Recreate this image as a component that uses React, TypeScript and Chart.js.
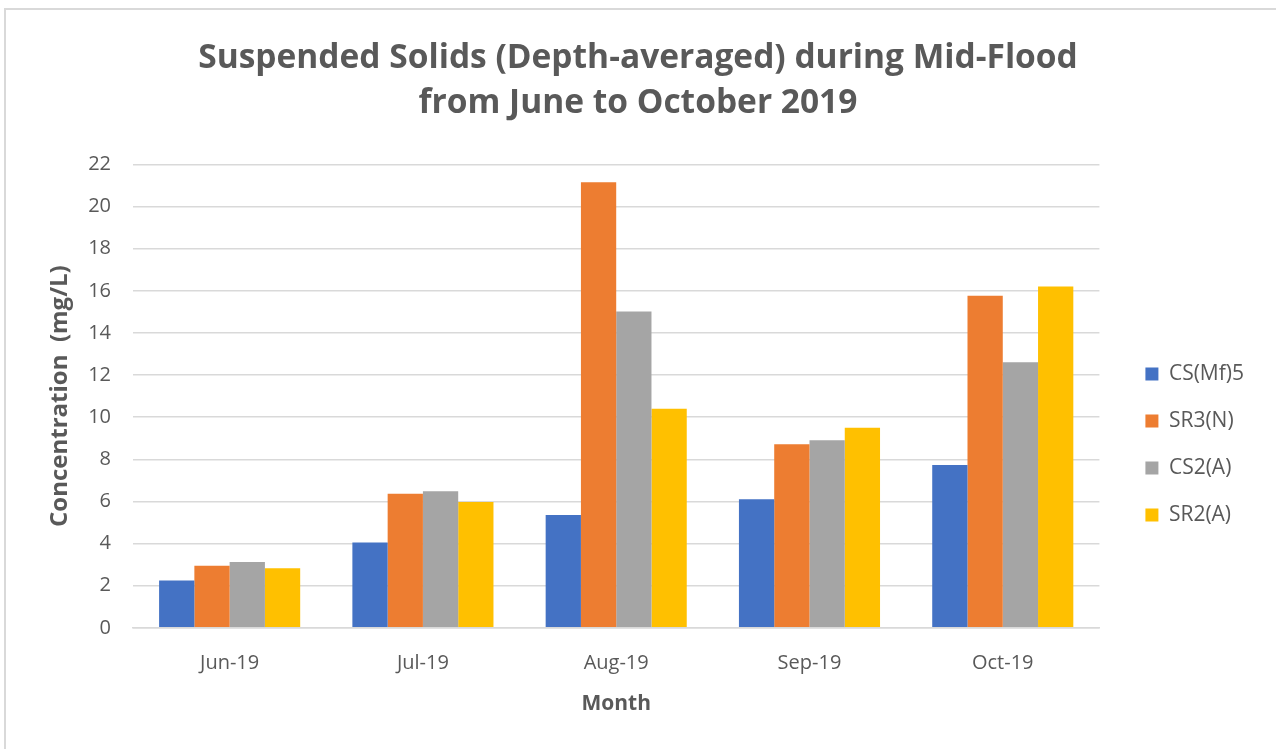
import React, { useEffect, useRef } from "react";
import { Chart, registerables } from "chart.js";

Chart.register(...registerables);

const categories = ["Jun-19", "Jul-19", "Aug-19", "Sep-19", "Oct-19"];
const seriesNames = ["CS(Mf)5", "SR3(N)", "CS2(A)", "SR2(A)"];
const csMf5 = [2.24, 4.05, 5.36, 6.1, 7.73];
const sr3N = [2.95, 6.37, 21.15, 8.71, 15.76];
const cs2A = [3.13, 6.48, 15.02, 8.9, 12.61];
const sr2A = [2.83, 5.97, 10.4, 9.5, 16.2];
const seriesColors = ["#4472C4", "#ED7D31", "#A5A5A5", "#FFC000"];
const yTicks = [0, 2, 4, 6, 8, 10, 12, 14, 16, 18, 20, 22];

const FONT = "'Open Sans', Lato, sans-serif";
const TEXT = "#595959";
const PAD = 22;

export default function App() {
  const ref = useRef<HTMLCanvasElement | null>(null);
  useEffect(() => {
    document.body.style.margin = "0";
    if (!ref.current) return;
    const values = [csMf5, sr3N, cs2A, sr2A];
    const chart = new Chart(ref.current, {
      type: "bar",
      data: {
        labels: categories,
        datasets: seriesNames.map((n, i) => ({
          label: n,
          data: values[i],
          backgroundColor: seriesColors[i],
          borderWidth: 0,
          categoryPercentage: 0.73,
          barPercentage: 1.0,
          yAxisID: "y",
        })),
      },
      options: {
        animation: false,
        responsive: false,
        maintainAspectRatio: false,
        layout: { padding: { left: PAD, right: PAD, top: 36, bottom: 28 } },
        plugins: {
          title: {
            display: true,
            text: ["Suspended Solids (Depth-averaged) during Mid-Flood", "from June to October 2019"],
            color: TEXT,
            font: { family: FONT, size: 33.5, weight: "bold", lineHeight: 1.35 },
            padding: { top: 0, bottom: 38 },
          },
          legend: {
            position: "right",
            align: "center",
            title: { display: true, text: "", font: { size: 10 }, padding: { top: 120, bottom: 0 } },
            labels: {
              color: TEXT,
              font: { family: FONT, size: 21 },
              boxWidth: 13,
              boxHeight: 13,
              padding: 26,
            },
          },
          tooltip: { enabled: false },
        },
        scales: {
          x: {
            grid: { display: false },
            border: { display: true, color: "#d9d9d9", width: 1.5 },
            ticks: { color: TEXT, font: { family: FONT, size: 20 }, padding: 15 },
            title: {
              display: true,
              text: "Month",
              color: TEXT,
              font: { family: FONT, size: 21, weight: "bold" },
              padding: { top: 2 },
            },
          },
          y: {
            position: "left",
            min: 0,
            max: 22,
            afterBuildTicks: (axis: any) => {
              axis.ticks = yTicks.map((v) => ({ value: v }));
            },
            afterFit: (axis: any) => {
              axis.width = 133 - PAD;
            },
            grid: { color: "#d9d9d9", lineWidth: 1.5, drawTicks: false },
            border: { display: false },
            ticks: { color: TEXT, font: { family: FONT, size: 20 }, padding: 22 },
            title: {
              display: true,
              text: "Concentration  (mg/L)",
              color: TEXT,
              font: { family: FONT, size: 24, weight: "bold" },
              padding: { top: 24, bottom: 0 },
            },
          },
          spacer: {
            type: "linear",
            position: "right",
            display: true,
            grid: { display: false, drawTicks: false },
            border: { display: false },
            ticks: { display: false },
            afterFit: (axis: any) => {
              axis.width = 20;
            },
          },
        },
      },
    });
    return () => chart.destroy();
  }, []);
  return (
    <div style={{ position: "absolute", left: 0, top: 0, width: 1276, height: 749, background: "#fff", overflow: "hidden" }}>
      <div
        style={{
          position: "absolute",
          left: 4,
          top: 8,
          width: 1276,
          height: 760,
          border: "2px solid #d9d9d9",
          boxSizing: "border-box",
        }}
      />
      <canvas ref={ref} width={1276} height={749} style={{ position: "absolute", left: 0, top: 0 }} />
    </div>
  );
}
